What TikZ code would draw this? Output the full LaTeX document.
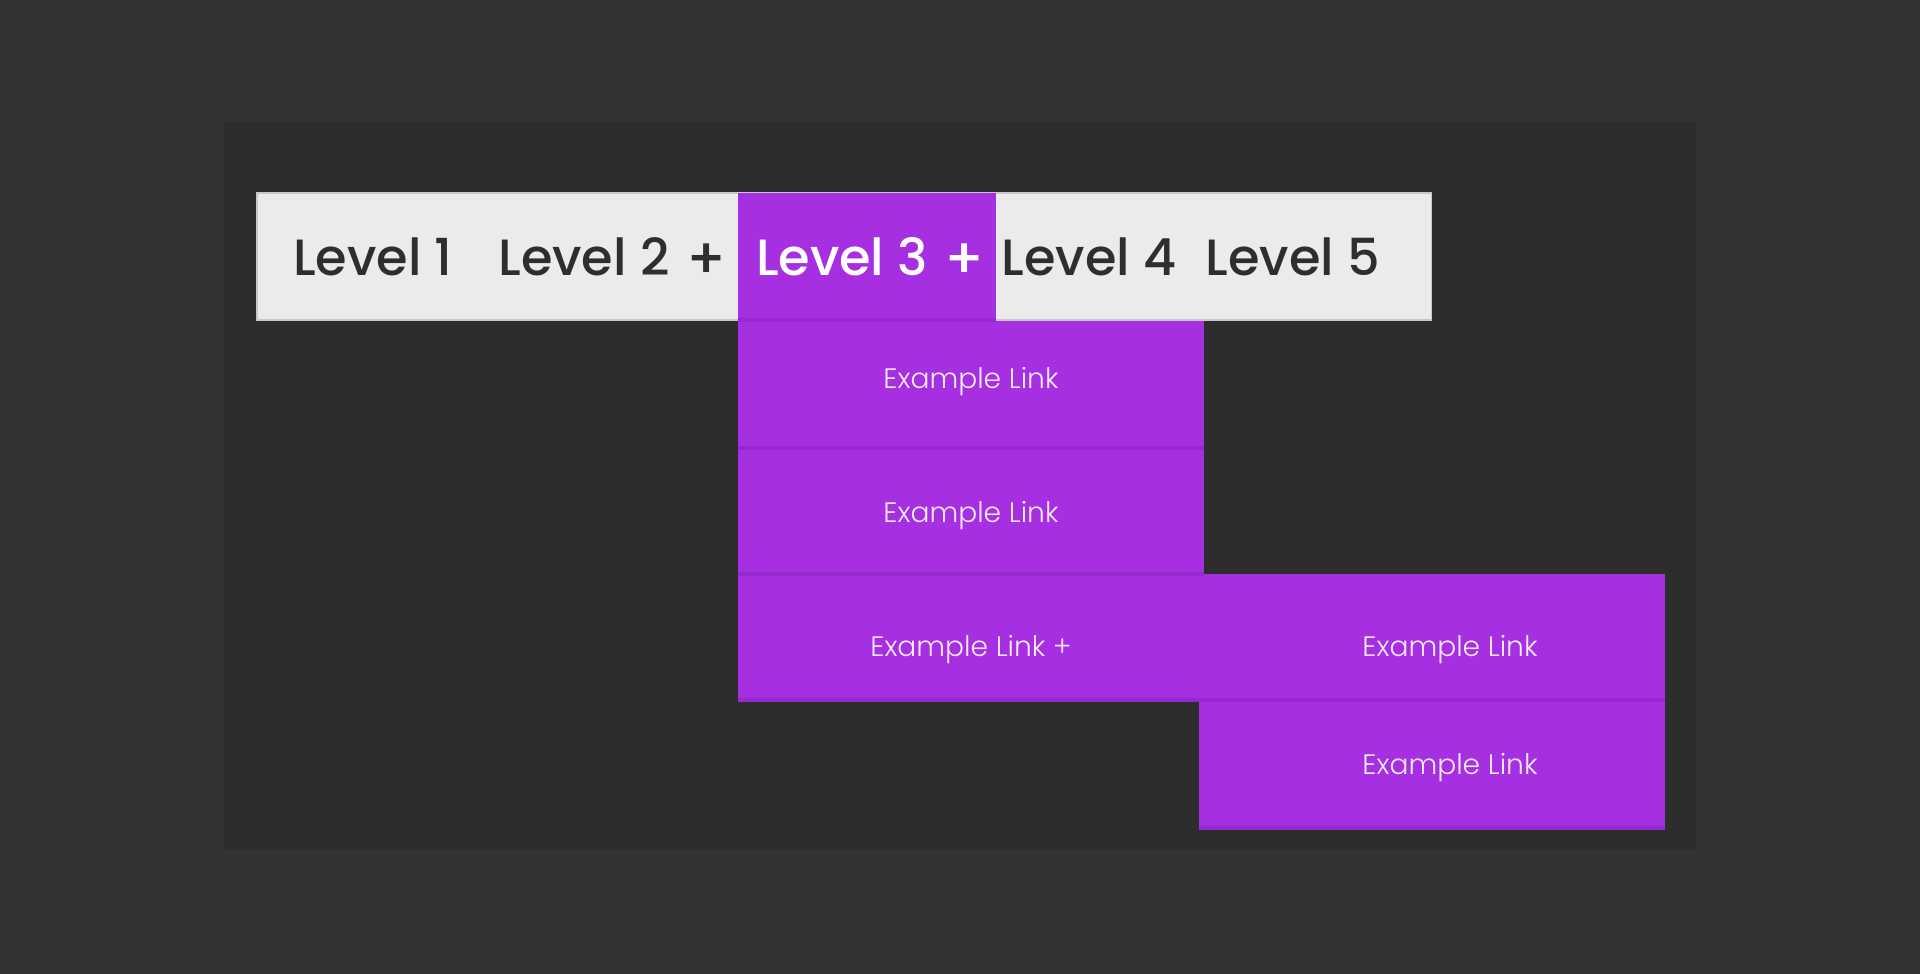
\documentclass[tikz,border=0pt]{standalone}
\usepackage{fontspec}
\setmainfont{Poppins}
\newfontfamily\navfont{Poppins Medium}
\newfontfamily\linkfont{Poppins Light}
\definecolor{pagebg}{HTML}{333333}
\definecolor{panelbg}{HTML}{2D2D2D}
\definecolor{navgrey}{HTML}{EBEBEB}
\definecolor{navink}{HTML}{2E2E2E}
\definecolor{menupurple}{HTML}{A62FE1}
\definecolor{menuedge}{HTML}{9628CF}
\definecolor{linkink}{HTML}{F6EAFD}
\tikzset{
  boxbase/.style={rectangle, inner sep=0pt, outer sep=0pt, anchor=north west},
  navbox/.style={boxbase, fill=navgrey, draw=navgrey!85!black, line width=0.4pt},
  dropbox/.style={boxbase, fill=menupurple},
  navtext/.style={text=navink, font=\navfont\fontsize{14.5}{17}\selectfont},
  activetext/.style={navtext, text=white},
  plustext/.style={font=\navfont\fontsize{16}{18}\selectfont},
  linktext/.style={text=linkink, font=\linkfont\fontsize{8}{10}\selectfont},
  edgeline/.style={menuedge, line width=0.9pt}
}
\begin{document}
\begin{tikzpicture}[x=0.01cm, y=-0.01cm]
  \fill[pagebg] (0,0) rectangle (1920,974);
  \fill[panelbg] (224,122) rectangle (1696,850);
  \useasboundingbox (0,0) rectangle (1920,974);
  % top bar
  \node[navbox, minimum width=11.74cm, minimum height=1.27cm] (bar) at (257,193) {};
  \node[dropbox, minimum width=2.58cm, minimum height=1.27cm] (active) at (738,193) {};
  \node[navtext] (lvl1) at (373,257) {Level 1};
  \node[navtext] (lvl2) at (584,257) {Level 2};
  \node[navtext, plustext] (plus2) at (707,261) {+};
  \node[activetext] (lvl3) at (842,257) {Level 3};
  \node[activetext, plustext] (plus3) at (965,261) {+};
  \node[navtext] (lvl4) at (1089,257) {Level 4};
  \node[navtext] (lvl5) at (1293,257) {Level 5};
  % dropdown
  \node[dropbox, minimum width=4.66cm, minimum height=1.27cm] (drop1) at (738,321) {};
  \node[dropbox, minimum width=4.66cm, minimum height=1.26cm] (drop2) at (738,448) {};
  \node[dropbox, minimum width=4.66cm, minimum height=1.26cm] (drop3) at (738,574) {};
  \node[dropbox, minimum width=4.66cm, minimum height=1.26cm] (sub1) at (1199,574) {};
  \node[dropbox, minimum width=4.66cm, minimum height=1.26cm] (sub2) at (1199,702) {};
  \draw[edgeline] (active.south west) -- (active.south east);
  \draw[edgeline] (drop1.south west) -- (drop1.south east);
  \draw[edgeline] (drop2.south west) -- (drop2.south east);
  \draw[edgeline] (drop3.south west) -- (sub1.south east);
  \draw[edgeline] (sub2.south west) -- (sub2.south east);
  \node[linktext] (link1) at (971,382) {Example Link};
  \node[linktext] (link2) at (971,516) {Example Link};
  \node[linktext] (link3) at (971,650) {Example Link +};
  \node[linktext] (link4) at (1450,650) {Example Link};
  \node[linktext] (link5) at (1450,768) {Example Link};
\end{tikzpicture}
\end{document}
